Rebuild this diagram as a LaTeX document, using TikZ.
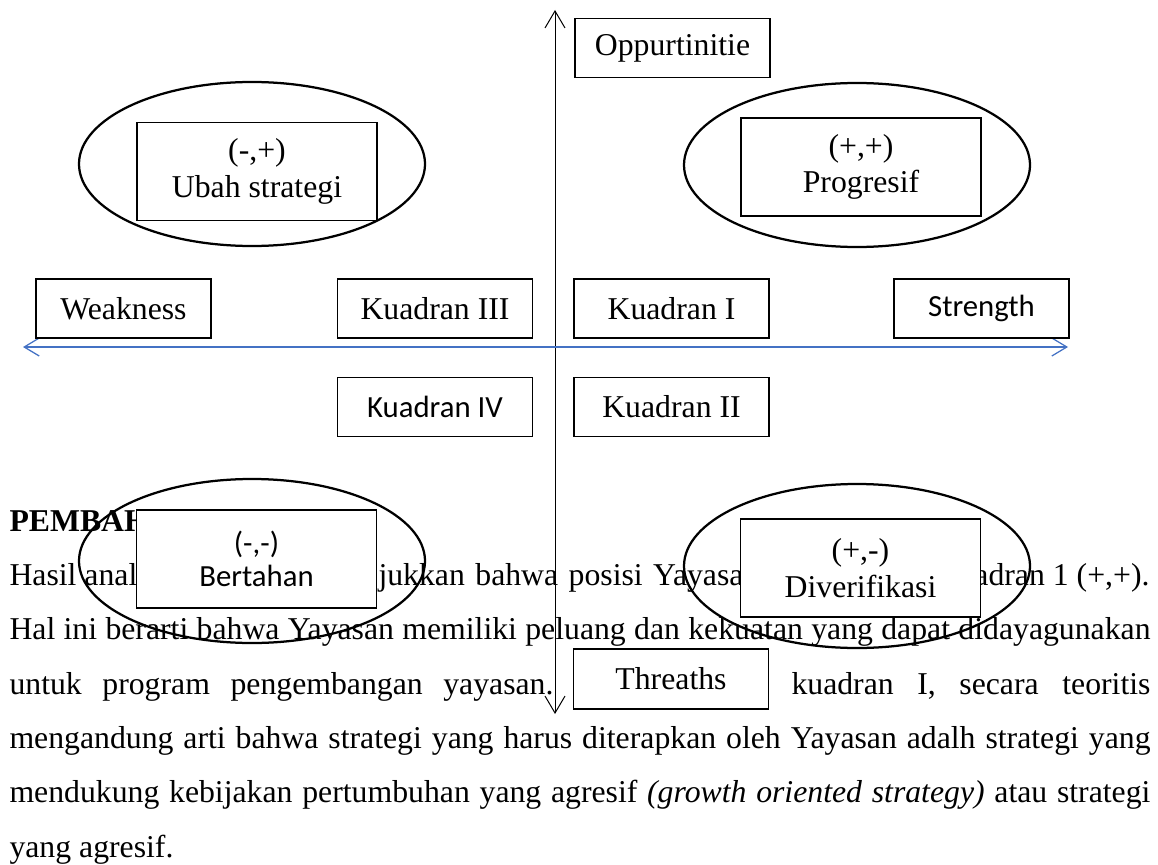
\documentclass[tikz,border=0pt]{standalone}
\usepackage{fontspec}
\setmainfont{Liberation Serif}
\newfontfamily\calibri{Carlito}
\usetikzlibrary{arrows.meta,positioning,shapes.geometric}
\definecolor{garisbiru}{RGB}{68,114,196}

\begin{document}
\begin{tikzpicture}[x=0.4pt, y=-0.4pt,
            every node/.style={font=\fontsize{12.7}{14.6}\selectfont},
            sans/.style={font=\calibri\fontsize{12.3}{13.4}\selectfont},
            kotak/.style={draw, fill=white, line width=0.5pt, inner sep=0pt, align=center, minimum width=78pt, minimum height=23.6pt},
            sempit/.style={kotak, minimum width=70pt},
            kuadran/.style={kotak, minimum width=96pt, minimum height=39.2pt},
            lonjong/.style={ellipse, draw, line width=0.9pt, inner sep=0pt, minimum width=138.4pt, minimum height=65.6pt},
            teks/.style={inner sep=0pt, anchor=base west},
            sumbu/.style={line width=0.4pt, {Straight Barb[length=6.8pt,width=8pt]}-{Straight Barb[length=6.8pt,width=8pt]}},
            sumbubiru/.style={garisbiru, line width=0.5pt, {Straight Barb[length=6pt,width=7.2pt]}-{Straight Barb[length=6pt,width=7.2pt]}}]
            \useasboundingbox (0,0) rectangle (1158,865);

            % paragraf di bawah diagram
            \node[teks] (b1)  at (9,531)   {\bfseries PEMBAH};
            \node[teks] (b2a) at (9,585)   {Hasil anal};
            \node[teks] (b2b) at (378,585) {\makebox[146pt][s]{jukkan bahwa posisi Yayasa}};
            \node[teks, anchor=base east] (b2c) at (1150,585) {adran 1 (+,+).};
            \node[teks] (b3)  at (9,639)   {\makebox[456.4pt][s]{Hal ini berarti bahwa Yayasan memiliki peluang dan kekuatan yang dapat didayagunakan}};
            \node[teks] (b4a) at (9,694)   {\makebox[217.6pt][s]{untuk program pengembangan yayasan.}};
            \node[teks] (b4b) at (791,694) {\makebox[143.6pt][s]{kuadran I, secara teoritis}};
            \node[teks] (b5)  at (9,748)   {\makebox[456.4pt][s]{mengandung arti bahwa strategi yang harus diterapkan oleh Yayasan adalh strategi yang}};
            \node[teks] (b6)  at (9,802)   {\makebox[456.4pt][s]{mendukung kebijakan pertumbuhan yang agresif \textit{(growth oriented strategy)} atau strategi}};
            \node[teks] (b7)  at (9,857)   {yang agresif.};

            % sumbu
            \coordinate (atas)  at (555,10);
            \coordinate (bawah) at (555,714);
            \coordinate (kiri)  at (23,347);
            \coordinate (kanan) at (1068,347);
            \draw[sumbu] (bawah) -- (atas);
            \draw[sumbubiru] (kiri) -- (kanan);

            % kotak label
            \node[kotak]        (opp)  at (672.5,48)    {Oppurtinitie};
            \node[sempit]       (weak) at (123.5,308.5) {Weakness};
            \node[kotak]        (k3)   at (435,308.5)   {Kuadran III};
            \node[kotak]        (k1)   at (671.5,308.5) {Kuadran I};
            \node[sempit, sans] (str)  at (981.5,308.5) {Strength};
            \node[kotak, sans]  (k4)   [below=15.2pt of k3] {Kuadran IV};
            \node[kotak]        (k2)   [below=15.2pt of k1] {Kuadran II};
            \node[kotak, minimum height=24pt] (thr) at (671,679) {Threaths};

            % strategi tiap kuadran
            \node[kuadran]       (ubah) at (257,171.5) {(-,+)\\Ubah strategi};
            \node[kuadran]       (prog) at (861,167)   {(+,+)\\Progresif};
            \node[kuadran, sans] (bert) at (256.5,559) {(-,-)\\Bertahan};
            \node[kuadran]       (div)  at (860.5,568) {(+,-)\\Diverifikasi};
            \node[lonjong] (eubah) at (252,164) {};
            \node[lonjong] (eprog) at (857,165) {};
            \node[lonjong] (ebert) at (252,561) {};
            \node[lonjong] (ediv)  at (857,566) {};
        \end{tikzpicture}
\end{document}
